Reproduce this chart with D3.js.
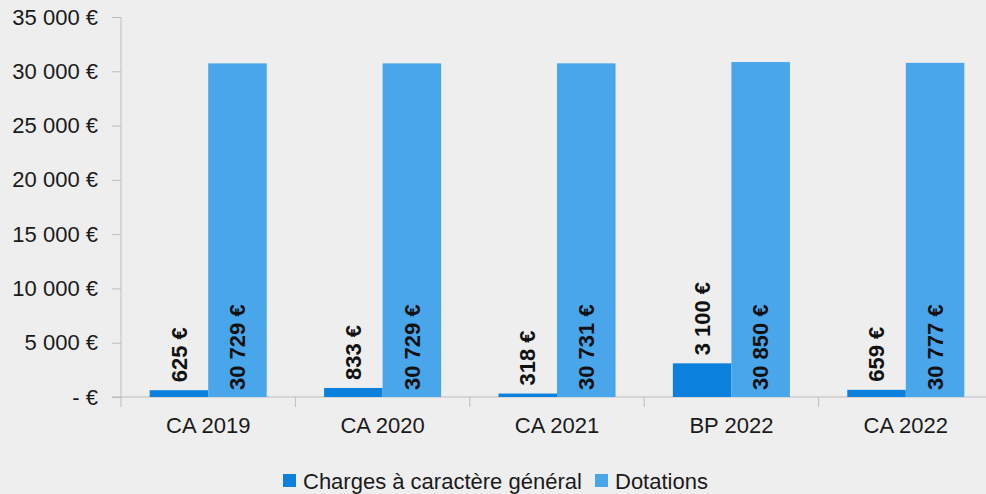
<!DOCTYPE html>
<html>
<head>
<meta charset="utf-8">
<script src="https://cdn.jsdelivr.net/npm/d3@7"></script>
<style>
  body { margin: 0; background: #eeeeee; }
  svg { display: block; font-family: "Liberation Sans", Arial, sans-serif; }
</style>
</head>
<body>
<div id="chart"></div>
<script>
const categories = ["CA 2019", "CA 2020", "CA 2021", "BP 2022", "CA 2022"];
const charges = [625, 833, 318, 3100, 659];
const dotations = [30729, 30729, 30731, 30850, 30777];
const seriesNames = ["Charges à caractère général", "Dotations"];
const yTicks = [0, 5000, 10000, 15000, 20000, 25000, 30000, 35000];

const width = 986, height = 494;
const margin = { top: 17, right: -7, bottom: 97, left: 121 };
const colors = ["#0b80dd", "#49a6eb"];

const fmt = v => v === 0 ? "- €" : d3.format(",")(v).replace(/,/g, " ") + " €";

const svg = d3.select("#chart").append("svg")
    .attr("width", width)
    .attr("height", height);

const x = d3.scaleBand()
    .domain(categories)
    .range([margin.left, width - margin.right]);

const inner = d3.scaleBand()
    .domain([0, 1])
    .range([0, x.bandwidth()])
    .paddingOuter(0.49)
    .paddingInner(0);

const y = d3.scaleLinear()
    .domain([0, 35000])
    .range([height - margin.bottom, margin.top]);

// y axis
const yAxis = svg.append("g")
    .attr("transform", "translate(" + margin.left + ",0)")
    .call(d3.axisLeft(y).tickValues(yTicks).tickFormat(fmt).tickSizeOuter(0).tickSize(9).tickPadding(14));
yAxis.select(".domain").attr("stroke", "#bdbdbd").attr("d", "M0," + margin.top + "V" + (y(0) + 10));
yAxis.selectAll(".tick line").attr("stroke", "#bdbdbd");
yAxis.selectAll("text").attr("font-size", 22).attr("fill", "#1a1a1a").attr("font-family", "Liberation Sans, Arial, sans-serif");

// x axis
const xAxis = svg.append("g")
    .attr("transform", "translate(0," + y(0) + ")")
    .call(d3.axisBottom(x).tickSize(0).tickPadding(20));
xAxis.select(".domain").attr("stroke", "#bdbdbd").attr("d", "M" + (margin.left - 9) + ",0H" + (width + 10));
xAxis.selectAll("text").attr("font-size", 22).attr("fill", "#1a1a1a").attr("font-family", "Liberation Sans, Arial, sans-serif");
// separators between categories
svg.append("g").selectAll("line")
    .data(categories.slice(1))
    .enter().append("line")
    .attr("x1", d => x(d)).attr("x2", d => x(d))
    .attr("y1", y(0)).attr("y2", y(0) + 10)
    .attr("stroke", "#bdbdbd");

const series = [charges, dotations];

series.forEach(function (vals, s) {
    const g = svg.append("g");
    g.selectAll("rect")
        .data(vals)
        .enter().append("rect")
        .attr("x", (d, i) => x(categories[i]) + inner(s))
        .attr("width", inner.bandwidth())
        .attr("y", d => y(d))
        .attr("height", d => y(0) - y(d))
        .attr("fill", colors[s]);

    g.selectAll("text")
        .data(vals)
        .enter().append("text")
        .attr("transform", function (d, i) {
            const cx = x(categories[i]) + inner(s) + inner.bandwidth() / 2;
            const cy = s === 0 ? y(d) - 8 : y(0) - 7;
            return "translate(" + cx + "," + cy + ") rotate(-90)";
        })
        .attr("dy", "0.35em")
        .attr("text-anchor", "start")
        .attr("font-size", 22)
        .attr("font-weight", "bold")
        .attr("fill", "#111")
        .text(d => fmt(d));
});

// legend
const legend = svg.append("g").attr("transform", "translate(283,481)");
const legendX = [0, 312];
seriesNames.forEach(function (name, i) {
    legend.append("rect")
        .attr("x", legendX[i]).attr("y", -7)
        .attr("width", 13).attr("height", 13)
        .attr("fill", colors[i]);
    legend.append("text")
        .attr("x", legendX[i] + 20).attr("y", 0)
        .attr("dy", "0.35em")
        .attr("font-size", 22)
        .attr("fill", "#1a1a1a")
        .text(name);
});
</script>
</body>
</html>
